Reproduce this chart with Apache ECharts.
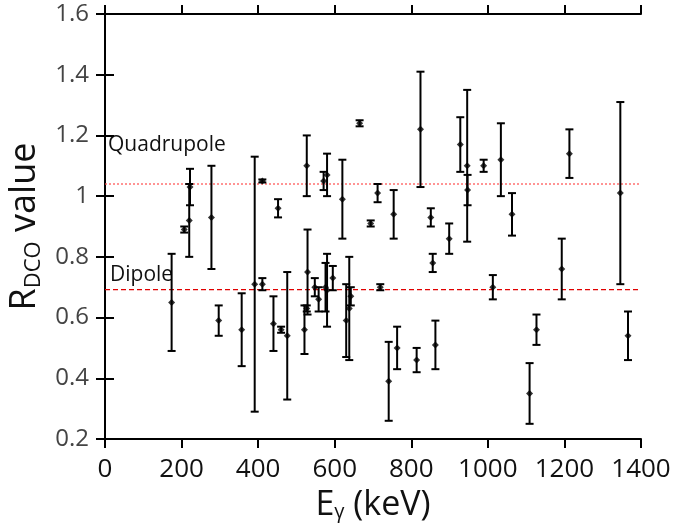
<!DOCTYPE html>
<html>
<head>
<meta charset="utf-8">
<script src="https://cdn.jsdelivr.net/npm/echarts@6/dist/echarts.min.js"></script>
<style>
html,body{margin:0;padding:0;background:#fff;}
#chart{width:698px;height:524px;}
</style>
</head>
<body>
<div id="chart"></div>
<script>
// Gamma energies (keV)
var energies = [174, 207, 222, 220, 278, 297, 357, 391, 411, 411, 440, 452, 460, 476,
  521, 527, 529, 527, 548, 558, 571, 580, 576, 580, 595, 620, 630, 638, 642, 665,
  694, 712, 719, 741, 754, 763, 814, 824, 851, 856, 863, 899, 928, 946, 947, 989,
  1013, 1034, 1063, 1109, 1127, 1193, 1213, 1346, 1366];
// R_DCO values
var rdco = [0.65, 0.89, 1.03, 0.92, 0.93, 0.59, 0.56, 0.71, 0.71, 1.05, 0.58, 0.96, 0.56, 0.54,
  0.56, 1.10, 0.75, 0.63, 0.70, 0.66, 1.05, 1.07, 0.70, 0.69, 0.73, 0.99, 0.59, 0.63, 0.67, 1.24,
  0.91, 1.01, 0.70, 0.39, 0.94, 0.50, 0.46, 1.22, 0.93, 0.78, 0.51, 0.86, 1.17, 1.10, 1.02, 1.10,
  0.70, 1.12, 0.94, 0.35, 0.56, 0.76, 1.14, 1.01, 0.54];
// Uncertainties
var errors = [0.16, 0.01, 0.06, 0.12, 0.17, 0.05, 0.12, 0.42, 0.02, 0.005, 0.09, 0.03, 0.01, 0.21,
  0.08, 0.10, 0.14, 0.01, 0.03, 0.04, 0.03, 0.07, 0.08, 0.12, 0.04, 0.13, 0.12, 0.17, 0.03, 0.01,
  0.01, 0.03, 0.01, 0.13, 0.08, 0.07, 0.04, 0.19, 0.03, 0.03, 0.08, 0.05, 0.09, 0.25, 0.05, 0.02,
  0.04, 0.12, 0.07, 0.10, 0.05, 0.10, 0.08, 0.30, 0.08];
// Reference lines
var refNames = ['Quadrupole', 'Dipole'];
var refValues = [1.04, 0.692];
var xTicks = {min: 0, max: 1400, interval: 200};
var yTicks = {min: 0.2, max: 1.6, interval: 0.2};

var pts = energies.map(function (e, i) { return [e, rdco[i]]; });
var bars = energies.map(function (e, i) { return [e, rdco[i] - errors[i], rdco[i] + errors[i]]; });

var chart = echarts.init(document.getElementById('chart'));
var FONT = 'Open Sans';
var axisLine = {show: true, lineStyle: {color: '#000', width: 2}};
var axisTick = {show: true, inside: false, length: 9, lineStyle: {color: '#000', width: 2}};

chart.setOption({
  animation: false,
  backgroundColor: '#fff',
  grid: {left: 105, right: 57, top: 14, bottom: 85, containLabel: false, outerBoundsMode: 'none'},
  xAxis: [{
    type: 'value', position: 'bottom', min: xTicks.min, max: xTicks.max, interval: xTicks.interval,
    axisLine: axisLine, axisTick: axisTick, splitLine: {show: false},
    axisLabel: {color: '#111', fontFamily: FONT, fontSize: 26, margin: 18,
      formatter: function (v) { return String(v); }},
    name: '{e|E}{g|γ}{e| (keV)}', nameLocation: 'middle', nameGap: 42,
    nameTextStyle: {rich: {
      e: {fontFamily: FONT, fontSize: 34, color: '#111', lineHeight: 40},
      g: {fontFamily: FONT, fontSize: 20, color: '#111', lineHeight: 40, padding: [14, 0, 0, 0]}
    }}
  }, {
    type: 'value', position: 'top', min: xTicks.min, max: xTicks.max, interval: xTicks.interval,
    axisLine: axisLine, axisTick: axisTick, axisLabel: {show: false}, splitLine: {show: false}
  }],
  yAxis: [{
    type: 'value', position: 'left', min: yTicks.min, max: yTicks.max, interval: yTicks.interval,
    axisLine: axisLine, axisTick: axisTick, splitLine: {show: false},
    axisLabel: {color: '#444', fontFamily: FONT, fontSize: 24, margin: 16,
      formatter: function (v) { return Math.abs(v - 1) < 1e-9 ? '1' : v.toFixed(1); }},
    name: '{r|R}{s|DCO}{r| value}', nameLocation: 'middle', nameRotate: 90, nameGap: 52,
    nameTextStyle: {rich: {
      r: {fontFamily: FONT, fontSize: 36, color: '#111', lineHeight: 44},
      s: {fontFamily: FONT, fontSize: 22, color: '#111', lineHeight: 44, padding: [18, 0, 0, 0]}
    }}
  }, {
    type: 'value', position: 'right', min: yTicks.min, max: yTicks.max, interval: yTicks.interval,
    axisLine: axisLine, axisTick: axisTick, axisLabel: {show: false}, splitLine: {show: false}
  }],
  series: [{
    type: 'line', name: refNames[0], showSymbol: false, silent: true, z: 1,
    data: [[xTicks.min, refValues[0]], [xTicks.max, refValues[0]]],
    lineStyle: {color: '#ff4d4d', type: [2, 2], width: 1.2}
  }, {
    type: 'line', name: refNames[1], showSymbol: false, silent: true, z: 1,
    data: [[xTicks.min, refValues[1]], [xTicks.max, refValues[1]]],
    lineStyle: {color: '#e00000', type: [5, 3], width: 1.2}
  }, {
    type: 'custom', data: bars, z: 3,
    renderItem: function (params, api) {
      var x = api.value(0);
      var lo = api.coord([x, api.value(1)]);
      var hi = api.coord([x, api.value(2)]);
      var hw = 4;
      var st = {stroke: '#000', lineWidth: 2, fill: null};
      return {type: 'group', children: [
        {type: 'line', shape: {x1: lo[0], y1: lo[1], x2: hi[0], y2: hi[1]}, style: st},
        {type: 'line', shape: {x1: lo[0] - hw, y1: lo[1], x2: lo[0] + hw, y2: lo[1]}, style: st},
        {type: 'line', shape: {x1: hi[0] - hw, y1: hi[1], x2: hi[0] + hw, y2: hi[1]}, style: st}
      ]};
    }
  }, {
    type: 'scatter', data: pts, z: 4,
    symbol: 'diamond', symbolSize: 7, itemStyle: {color: '#000'}
  }],
  graphic: [
    {type: 'text', left: 108, top: 135, style: {text: refNames[0], font: '21px "Open Sans"', fill: '#111'}},
    {type: 'text', left: 110, top: 265, style: {text: refNames[1], font: '21px "Open Sans"', fill: '#111'}}
  ]
});
</script>
</body>
</html>
